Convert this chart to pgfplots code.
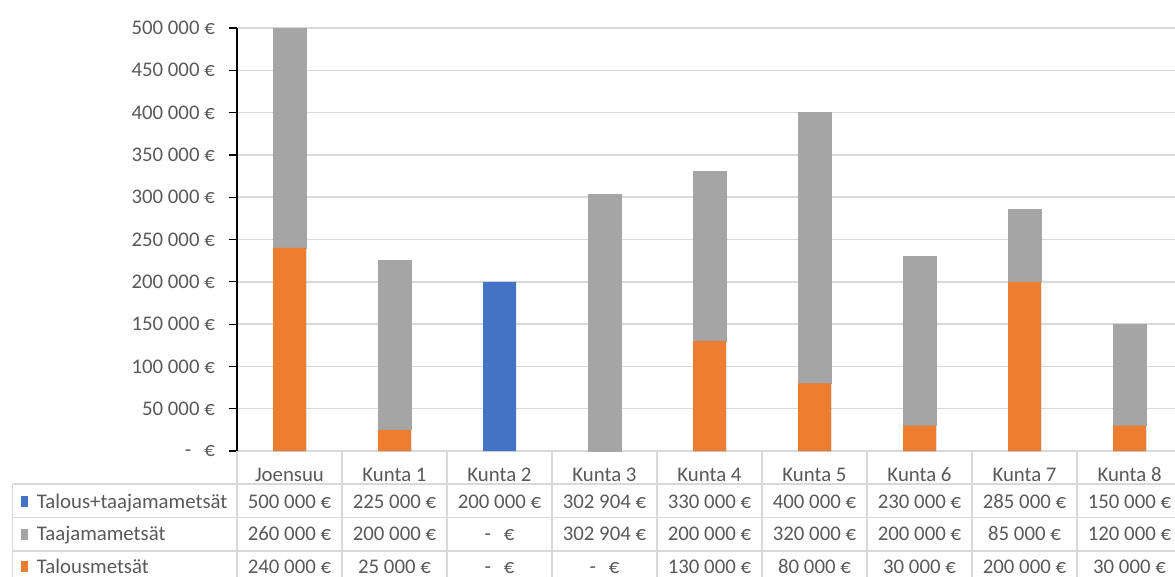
\documentclass[border=0pt]{standalone}
\usepackage{pgfplots}
\pgfplotsset{compat=1.18}
\usepackage{fontspec}
\setmainfont{Carlito}
\definecolor{cblue}{HTML}{4472C4}
\definecolor{corange}{HTML}{ED7D31}
\definecolor{cgray}{HTML}{A5A5A5}
\definecolor{txt}{HTML}{595959}
\definecolor{gridc}{HTML}{D9D9D9}
\newcommand{\z}{-\hspace{13bp}€}
\newcommand{\tf}{\fontsize{20.8bp}{25bp}\selectfont}
\begin{document}
\tf
\begin{tikzpicture}
\path[use as bounding box] (0bp,0bp) rectangle (1175bp,-577bp);
\clip (0bp,0bp) rectangle (1175bp,-577bp);
\pgfplotsset{
  base/.style={at={(237bp,-451bp)}, anchor=south west, scale only axis,
    width=938bp, height=423bp, xmin=-0.5, xmax=8.433, ymin=0, ymax=500000,
    bar width=33bp},
}
\begin{axis}[base, ybar,
  axis x line*=bottom, axis y line*=left,
  x axis line style={draw=gridc, line width=1.5bp, -},
  y axis line style={draw=black, line width=1.2bp, -},
  ymajorgrids, grid style={gridc, line width=1.5bp},
  ytick={0,50000,...,500000},
  yticklabels={\z, 50 000 €, 100 000 €, 150 000 €, 200 000 €, 250 000 €, 300 000 €, 350 000 €, 400 000 €, 450 000 €, 500 000 €},
  tick align=outside, major tick length=8bp,
  ytick style={draw=black, line width=1.2bp},
  xtick={0,...,8},
  xticklabels={Joensuu, Kunta 1, Kunta 2, Kunta 3, Kunta 4, Kunta 5, Kunta 6, Kunta 7, Kunta 8},
  xtick style={draw=none},
  xticklabel style={anchor=base, inner sep=0pt, yshift=-22bp},
  yticklabel style={anchor=east, inner sep=0pt, xshift=-14bp},
  ticklabel style={text=txt, font=\tf},
  scaled y ticks=false]
\addplot[fill=cblue, draw=none] coordinates {(0,500000) (1,225000) (2,200000) (3,302904) (4,330000) (5,400000) (6,230000) (7,285000) (8,150000)};
\end{axis}
\begin{axis}[base, ybar stacked, hide axis]
\addplot[fill=corange, draw=none] coordinates {(0,240000) (1,25000) (2,0) (3,0) (4,130000) (5,80000) (6,30000) (7,200000) (8,30000)};
\addplot[fill=cgray, draw=cgray, line width=0.8bp] coordinates {(0,260000) (1,200000) (2,0) (3,302904) (4,200000) (5,320000) (6,200000) (7,85000) (8,120000)};
\end{axis}
\begin{scope}[x=1bp, y=1bp]
% data table grid
\begin{scope}[draw=gridc, line width=1.5bp]
\foreach \k in {0,...,9} {\draw (237+105*\k,-451) -- (237+105*\k,-577);}
\draw (12.7,-484) -- (12.7,-577);
\foreach \yy in {-484,-517.7,-551} {\draw (12.7,\yy) -- (1175,\yy);}
\end{scope}
% legend keys
\fill[cblue] (20.5,-506.5) rectangle (27.5,-495.5);
\fill[cgray] (20.5,-539.5) rectangle (27.5,-528.5);
\fill[corange] (20.5,-572) rectangle (27.5,-561);
\begin{scope}[every node/.style={text=txt, inner sep=0pt, font=\tf}]
\node[anchor=base west] at (36.7,-508) {Talous+taajamametsät};
\node[anchor=base west] at (36.7,-540.7) {Taajamametsät};
\node[anchor=base west] at (36.7,-573.3) {Talousmetsät};
\foreach \v [count=\k from 0] in {500 000 €, 225 000 €, 200 000 €, 302 904 €, 330 000 €, 400 000 €, 230 000 €, 285 000 €, 150 000 €}
  {\node[anchor=base] at (289.5+105*\k,-508) {\v};}
\foreach \v [count=\k from 0] in {260 000 €, 200 000 €, \z, 302 904 €, 200 000 €, 320 000 €, 200 000 €, 85 000 €, 120 000 €}
  {\node[anchor=base] at (289.5+105*\k,-540.7) {\v};}
\foreach \v [count=\k from 0] in {240 000 €, 25 000 €, \z, \z, 130 000 €, 80 000 €, 30 000 €, 200 000 €, 30 000 €}
  {\node[anchor=base] at (289.5+105*\k,-573.3) {\v};}
\end{scope}
\end{scope}
\end{tikzpicture}
\end{document}
